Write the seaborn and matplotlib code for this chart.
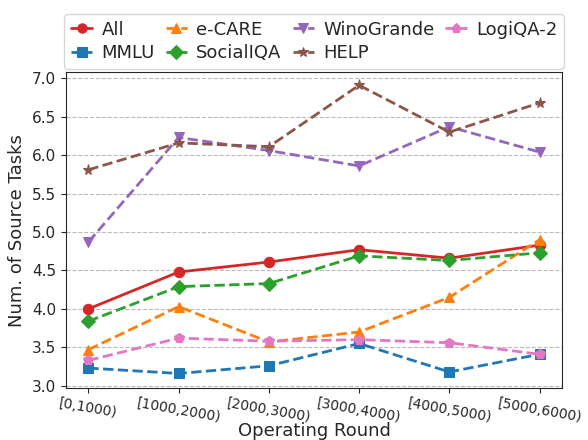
import pandas as pd
import matplotlib
matplotlib.use("Agg")
import matplotlib.pyplot as plt
import seaborn as sns

# ---- data ----
rounds = ["[0,1000)", "[1000,2000)", "[2000,3000)", "[3000,4000)", "[4000,5000)", "[5000,6000)"]
all_vals = [4.00, 4.48, 4.61, 4.77, 4.66, 4.83]
mmlu = [3.23, 3.16, 3.26, 3.55, 3.18, 3.41]
ecare = [3.47, 4.03, 3.57, 3.70, 4.15, 4.90]
socialiqa = [3.84, 4.29, 4.33, 4.69, 4.63, 4.73]
winogrande = [4.87, 6.23, 6.06, 5.86, 6.37, 6.04]
help_vals = [5.81, 6.16, 6.11, 6.91, 6.30, 6.68]
logiqa2 = [3.33, 3.62, 3.58, 3.60, 3.56, 3.41]

series = {
    "All": all_vals,
    "MMLU": mmlu,
    "e-CARE": ecare,
    "SocialIQA": socialiqa,
    "WinoGrande": winogrande,
    "HELP": help_vals,
    "LogiQA-2": logiqa2,
}
colors = {"All": "C3", "MMLU": "C0", "e-CARE": "C1", "SocialIQA": "C2",
          "WinoGrande": "C4", "HELP": "C5", "LogiQA-2": "C6"}
markers = {"All": "o", "MMLU": "s", "e-CARE": "^", "SocialIQA": "D",
           "WinoGrande": "v", "HELP": "*", "LogiQA-2": "p"}

# ---- plot ----
sns.set_style("ticks")
plt.rcParams['font.family'] = ['DejaVu Sans']

fig, ax = plt.subplots(figsize=(5.88, 4.4), dpi=100)
fig.subplots_adjust(left=0.112, right=0.956, top=0.836, bottom=0.118)

for name, vals in series.items():
    df = pd.DataFrame({"x": range(len(rounds)), "y": vals})
    sns.lineplot(data=df, x="x", y="y", ax=ax, color=colors[name],
                 marker=markers[name], markersize=8 if name == "HELP" else 7.5,
                 linewidth=2, linestyle="-" if name == "All" else "--",
                 label=name, markeredgecolor=colors[name])

ax.set_xticks(range(len(rounds)))
ax.set_xticklabels(rounds, rotation=-10, fontsize=10)
ax.set_yticks([3.0, 3.5, 4.0, 4.5, 5.0, 5.5, 6.0, 6.5, 7.0])
ax.tick_params(axis='y', labelsize=11)
ax.tick_params(axis='x', pad=2)
ax.set_ylim(2.97, 7.08)
ax.set_xlim(-0.25, 5.25)
ax.yaxis.grid(True, linestyle='--', color='#bbbbbb', linewidth=0.8)
ax.set_axisbelow(True)
ax.set_xlabel("Operating Round", fontsize=13, labelpad=-2)
ax.set_ylabel("Num. of Source Tasks", fontsize=13)

ax.legend(ncol=4, loc='lower center', bbox_to_anchor=(0.5, 1.0), fontsize=13,
          handlelength=1.2, columnspacing=0.6, handletextpad=0.5,
          borderaxespad=0.2, labelspacing=0.3, markerscale=0.9,
          borderpad=0.35)

fig.savefig("out.png", dpi=100)
